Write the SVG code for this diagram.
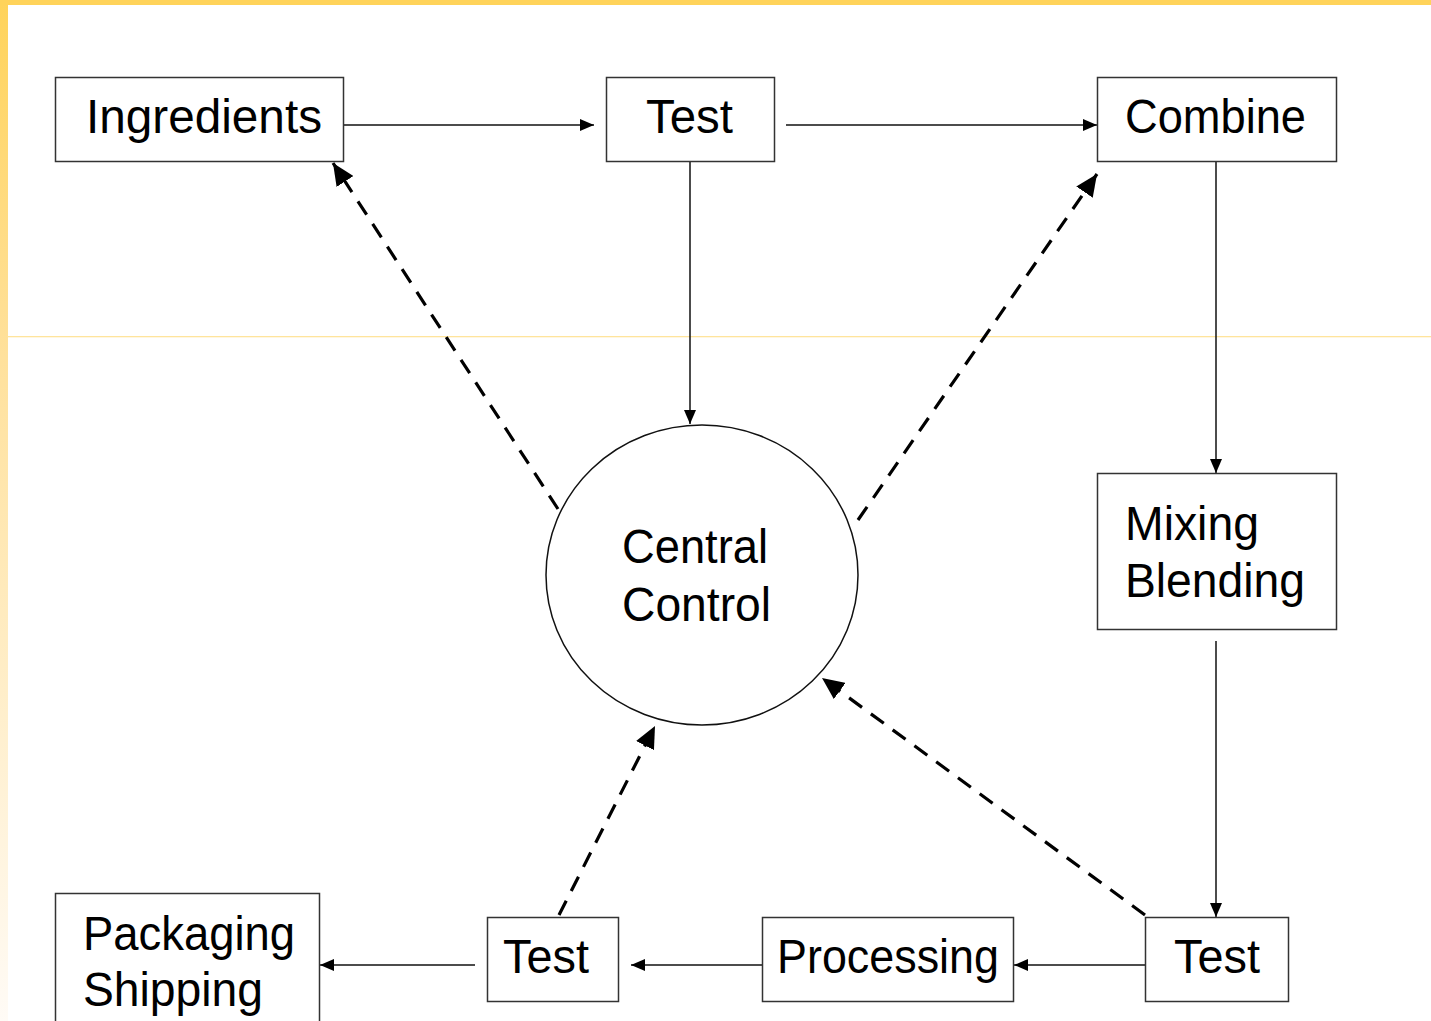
<svg xmlns="http://www.w3.org/2000/svg" width="1431" height="1021" viewBox="0 0 1431 1021">
  <defs>
    <linearGradient id="sideBar" x1="0" y1="0" x2="0" y2="1">
      <stop offset="0" stop-color="#FFD35A"/>
      <stop offset="0.35" stop-color="#FFE19C"/>
      <stop offset="1" stop-color="#FFFBF6"/>
    </linearGradient>
    <marker id="arrowThin" viewBox="0 0 14 12" refX="14" refY="6" markerWidth="14" markerHeight="12" markerUnits="userSpaceOnUse" orient="auto">
      <path d="M0,0 L14,6 L0,12 Z" fill="#000"/>
    </marker>
    <marker id="arrowBold" viewBox="0 0 22 20" refX="22" refY="10" markerWidth="22" markerHeight="20" markerUnits="userSpaceOnUse" orient="auto">
      <path d="M0,0 L22,10 L0,20 Z" fill="#000"/>
    </marker>
  </defs>
  <style>
    .box { fill: #fff; stroke: #333; stroke-width: 1.5; }
    .label { font-family: "Liberation Sans", Arial, sans-serif; font-size: 48px; fill: #000; }
    .flow { fill: none; stroke: #111; stroke-width: 1.5; marker-end: url(#arrowThin); }
    .feedback { fill: none; stroke: #000; stroke-width: 3.2; stroke-dasharray: 16 11; marker-end: url(#arrowBold); }
  </style>

  <!-- page background and slide trim -->
  <rect x="0" y="0" width="1431" height="1021" fill="#fff"/>
  <rect x="0" y="0" width="8" height="1021" fill="url(#sideBar)"/>
  <rect x="0" y="0" width="1431" height="5" fill="#FFD35A"/>
  <rect x="8" y="336" width="1423" height="1.3" fill="#FFE49C"/>

  <!-- connectors -->
  <g id="connectors">
    <line class="flow" x1="343" y1="125" x2="594" y2="125"/>
    <line class="flow" x1="786" y1="125" x2="1097" y2="125"/>
    <line class="flow" x1="690" y1="161" x2="690" y2="424"/>
    <line class="flow" x1="1216" y1="161" x2="1216" y2="473"/>
    <line class="flow" x1="1216" y1="641" x2="1216" y2="917"/>
    <line class="flow" x1="1145" y1="965" x2="1014" y2="965"/>
    <line class="flow" x1="762" y1="965" x2="631" y2="965"/>
    <line class="flow" x1="475" y1="965" x2="320" y2="965"/>
    <line class="feedback" x1="558" y1="509" x2="333" y2="163"/>
    <line class="feedback" x1="858" y1="520" x2="1097" y2="174"/>
    <line class="feedback" x1="1145" y1="915" x2="822" y2="678"/>
    <line class="feedback" x1="559" y1="915" x2="655" y2="726"/>
  </g>

  <!-- nodes -->
  <g id="node-ingredients">
    <rect class="box" x="55.5" y="77.5" width="288" height="84"/>
    <text class="label" x="86" y="133" textLength="236" lengthAdjust="spacingAndGlyphs">Ingredients</text>
  </g>
  <g id="node-test-top">
    <rect class="box" x="606.5" y="77.5" width="168" height="84"/>
    <text class="label" x="646" y="133" textLength="87" lengthAdjust="spacingAndGlyphs">Test</text>
  </g>
  <g id="node-combine">
    <rect class="box" x="1097.5" y="77.5" width="239" height="84"/>
    <text class="label" x="1125" y="133" textLength="181" lengthAdjust="spacingAndGlyphs">Combine</text>
  </g>
  <g id="node-mixing">
    <rect class="box" x="1097.5" y="473.5" width="239" height="156"/>
    <text class="label" x="1125" y="540" textLength="134" lengthAdjust="spacingAndGlyphs">Mixing</text>
    <text class="label" x="1125" y="597" textLength="180" lengthAdjust="spacingAndGlyphs">Blending</text>
  </g>
  <g id="node-central">
    <ellipse cx="702" cy="575" rx="156" ry="150" fill="#fff" stroke="#111" stroke-width="1.5"/>
    <text class="label" x="622" y="563" textLength="146" lengthAdjust="spacingAndGlyphs">Central</text>
    <text class="label" x="622" y="621" textLength="149" lengthAdjust="spacingAndGlyphs">Control</text>
  </g>
  <g id="node-test-right">
    <rect class="box" x="1145.5" y="917.5" width="143" height="84"/>
    <text class="label" x="1174" y="973" textLength="86" lengthAdjust="spacingAndGlyphs">Test</text>
  </g>
  <g id="node-processing">
    <rect class="box" x="762.5" y="917.5" width="251" height="84"/>
    <text class="label" x="777" y="973" textLength="222" lengthAdjust="spacingAndGlyphs">Processing</text>
  </g>
  <g id="node-test-left">
    <rect class="box" x="487.5" y="917.5" width="131" height="84"/>
    <text class="label" x="503" y="973" textLength="86" lengthAdjust="spacingAndGlyphs">Test</text>
  </g>
  <g id="node-packaging">
    <rect class="box" x="55.5" y="893.5" width="264" height="140"/>
    <text class="label" x="83" y="950" textLength="212" lengthAdjust="spacingAndGlyphs">Packaging</text>
    <text class="label" x="83" y="1006" textLength="180" lengthAdjust="spacingAndGlyphs">Shipping</text>
  </g>
</svg>
